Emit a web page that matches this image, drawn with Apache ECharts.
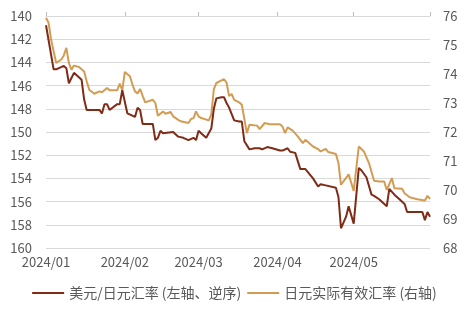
<!DOCTYPE html>
<html>
<head>
<meta charset="utf-8">
<script src="https://cdn.jsdelivr.net/npm/echarts@6/dist/echarts.min.js"></script>
<style>
html,body{margin:0;padding:0;background:#fff;}
#chart{width:469px;height:321px;}
</style>
</head>
<body>
<div id="chart"></div>
<script>
var usdJpyDates = ['2024-01-01','2024-01-04','2024-01-05','2024-01-08','2024-01-09','2024-01-10','2024-01-12','2024-01-15','2024-01-16','2024-01-17','2024-01-22','2024-01-23','2024-01-24','2024-01-25','2024-01-26','2024-01-29','2024-01-30','2024-01-31','2024-02-02','2024-02-05','2024-02-06','2024-02-07','2024-02-08','2024-02-12','2024-02-13','2024-02-14','2024-02-15','2024-02-16','2024-02-20','2024-02-22','2024-02-24','2024-02-26','2024-02-28','2024-02-29','2024-03-01','2024-03-02','2024-03-04','2024-03-06','2024-03-07','2024-03-08','2024-03-10','2024-03-11','2024-03-12','2024-03-13','2024-03-15','2024-03-17','2024-03-18','2024-03-19','2024-03-21','2024-03-23','2024-03-25','2024-03-26','2024-03-28','2024-03-30','2024-04-02','2024-04-03','2024-04-05','2024-04-06','2024-04-08','2024-04-10','2024-04-12','2024-04-15','2024-04-17','2024-04-18','2024-04-20','2024-04-24','2024-04-25','2024-04-26','2024-04-28','2024-04-29','2024-05-01','2024-05-03','2024-05-04','2024-05-06','2024-05-08','2024-05-09','2024-05-11','2024-05-14','2024-05-15','2024-05-17','2024-05-19','2024-05-21','2024-05-22','2024-05-24','2024-05-28','2024-05-29','2024-05-30','2024-05-31'];
var usdJpyValues = [140.8,144.6,144.6,144.3,144.5,145.8,144.9,145.5,147.2,148.1,148.1,148.4,147.6,147.6,148.1,147.6,147.6,146.4,148.4,148.7,147.9,148.1,149.3,149.3,150.7,150.5,149.9,150.1,150.0,150.4,150.5,150.7,150.5,150.7,149.9,150.1,150.5,149.7,148.0,147.1,147.0,147.0,147.5,147.9,149.0,149.1,149.1,150.8,151.5,151.4,151.4,151.5,151.3,151.4,151.6,151.6,151.4,151.7,151.8,153.2,153.2,154.0,154.7,154.5,154.6,154.8,155.6,158.3,157.3,156.4,157.9,153.1,153.3,153.9,155.4,155.5,155.8,156.4,154.9,155.4,155.8,156.2,156.9,156.9,156.9,157.6,156.9,157.3];

var reerDates = ['2024-01-01','2024-01-02','2024-01-03','2024-01-05','2024-01-07','2024-01-08','2024-01-09','2024-01-10','2024-01-11','2024-01-12','2024-01-14','2024-01-16','2024-01-17','2024-01-18','2024-01-20','2024-01-22','2024-01-23','2024-01-25','2024-01-26','2024-01-29','2024-01-30','2024-01-31','2024-02-01','2024-02-03','2024-02-04','2024-02-05','2024-02-06','2024-02-07','2024-02-09','2024-02-12','2024-02-13','2024-02-14','2024-02-16','2024-02-17','2024-02-19','2024-02-20','2024-02-22','2024-02-23','2024-02-26','2024-02-27','2024-02-28','2024-02-29','2024-03-01','2024-03-02','2024-03-05','2024-03-06','2024-03-07','2024-03-08','2024-03-10','2024-03-11','2024-03-12','2024-03-13','2024-03-14','2024-03-15','2024-03-17','2024-03-18','2024-03-20','2024-03-21','2024-03-24','2024-03-25','2024-03-27','2024-03-29','2024-04-02','2024-04-03','2024-04-04','2024-04-05','2024-04-07','2024-04-09','2024-04-11','2024-04-12','2024-04-15','2024-04-17','2024-04-18','2024-04-20','2024-04-21','2024-04-24','2024-04-25','2024-04-26','2024-04-29','2024-05-01','2024-05-03','2024-05-05','2024-05-07','2024-05-09','2024-05-11','2024-05-13','2024-05-14','2024-05-16','2024-05-17','2024-05-20','2024-05-21','2024-05-23','2024-05-26','2024-05-29','2024-05-30','2024-05-31'];
var reerValues = [75.94,75.77,75.19,74.38,74.50,74.64,74.90,74.38,74.15,74.29,74.24,74.09,73.75,73.46,73.32,73.40,73.37,73.52,73.44,73.44,73.67,73.44,74.07,73.92,73.63,73.40,73.33,73.48,73.02,73.11,73.00,72.56,72.71,72.63,72.69,72.54,72.42,72.37,72.31,72.45,72.48,72.71,72.54,72.48,72.40,72.60,73.48,73.69,73.78,73.82,73.70,73.24,73.31,73.11,73.02,72.94,71.96,72.25,72.22,72.10,72.31,72.27,72.27,72.19,71.96,72.16,72.05,71.85,71.62,71.73,71.50,71.41,71.33,71.42,71.31,71.24,70.93,70.18,70.54,69.97,71.50,71.33,70.93,70.32,70.29,70.29,70.00,70.41,70.06,70.04,69.89,69.75,69.68,69.64,69.80,69.69];

var leftTicks = {min: 140, max: 160, interval: 2};
var rightTicks = {min: 68, max: 76, interval: 1};
var seriesNames = ['美元/日元汇率 (左轴、逆序)', '日元实际有效汇率 (右轴)'];

function pairs(d, v) { return d.map(function (x, i) { return [x, v[i]]; }); }

var fontFam = '"Noto Sans CJK SC", "Noto Sans", sans-serif';
var chart = echarts.init(document.getElementById('chart'), null, {renderer: 'canvas'});
chart.setOption({
  animation: false,
  backgroundColor: '#ffffff',
  textStyle: {fontFamily: fontFam},
  grid: {left: 46, right: 39, top: 16, bottom: 73, containLabel: false},
  legend: {
    bottom: 16, left: 'center',
    icon: 'rect',
    itemWidth: 32, itemHeight: 2, itemGap: 6,
    textStyle: {color: '#595959', fontSize: 14, fontFamily: fontFam},
    data: seriesNames
  },
  xAxis: [{
    type: 'time',
    min: '2024-01-01', max: '2024-05-31',
    position: 'bottom',
    axisLine: {show: false},
    axisTick: {show: false},
    splitLine: {show: false},
    axisLabel: {formatter: '{yyyy}/{MM}', color: '#595959', fontSize: 13, margin: 8, fontFamily: fontFam, hideOverlap: false}
  }, {
    type: 'time',
    min: '2024-01-01', max: '2024-05-31',
    position: 'top',
    axisLine: {show: true, lineStyle: {color: '#D9D9D9', width: 1}},
    axisTick: {show: true, length: 4, lineStyle: {color: '#BFBFBF'}},
    splitLine: {show: false},
    axisLabel: {show: false}
  }],
  yAxis: [{
    type: 'value', inverse: true,
    min: leftTicks.min, max: leftTicks.max, interval: leftTicks.interval,
    axisLine: {show: false}, axisTick: {show: false},
    splitLine: {show: true, lineStyle: {color: '#D9D9D9', width: 1}},
    axisLabel: {color: '#595959', fontSize: 13, margin: 14, fontFamily: fontFam}
  }, {
    type: 'value',
    min: rightTicks.min, max: rightTicks.max, interval: rightTicks.interval,
    position: 'right',
    axisLine: {show: false}, axisTick: {show: false},
    splitLine: {show: false},
    axisLabel: {color: '#595959', fontSize: 13, margin: 13, fontFamily: fontFam}
  }],
  series: [{
    name: seriesNames[0], type: 'line', xAxisIndex: 0, yAxisIndex: 0,
    symbol: 'none', data: pairs(usdJpyDates, usdJpyValues),
    lineStyle: {color: '#7F2B16', width: 2}, itemStyle: {color: '#7F2B16'}, z: 3
  }, {
    name: seriesNames[1], type: 'line', xAxisIndex: 0, yAxisIndex: 1,
    symbol: 'none', data: pairs(reerDates, reerValues),
    lineStyle: {color: '#D39C55', width: 2}, itemStyle: {color: '#D39C55'}, z: 2
  }]
});
</script>
</body>
</html>
